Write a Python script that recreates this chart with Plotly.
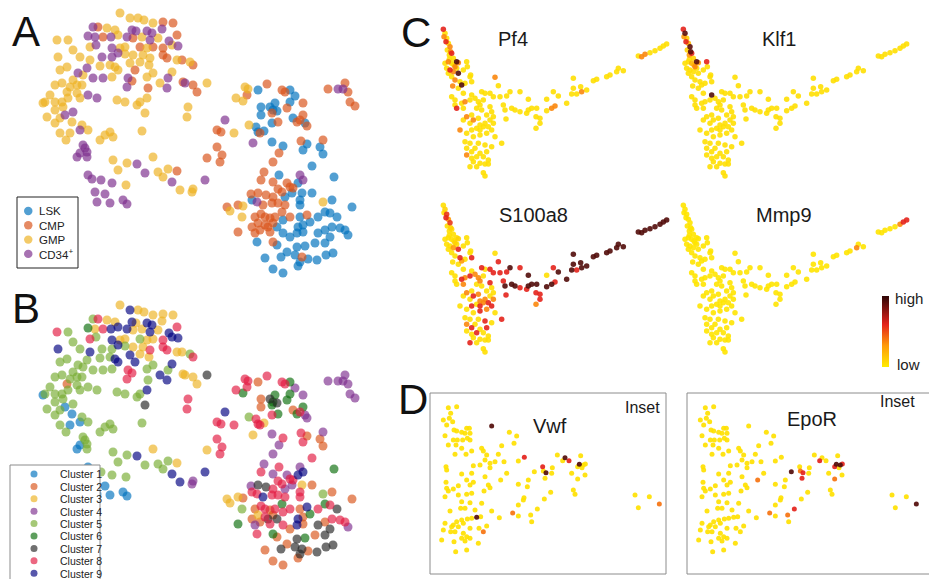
import plotly.graph_objects as go

W, H = 929, 579
FONT = "Liberation Sans, Arial, Helvetica, sans-serif"

# ---------------- Panel A / B : t-SNE embedding (shared coordinates) ----------------
tsne_x = [
    120,130,138,144,153,163,173,93,98,107,
    115,132,136,147,152,162,88,95,103,111,
    118,127,133,142,150,158,169,177,57,68,
    90,96,112,120,125,140,147,153,163,172,
    178,73,80,58,102,112,118,125,133,143,
    150,163,167,177,182,190,193,90,110,115,
    118,130,140,149,100,67,60,87,78,73,
    83,93,103,112,128,132,127,135,147,153,
    160,168,172,167,183,185,193,197,207,148,
    55,62,70,77,82,67,77,80,50,45,
    43,55,62,68,88,97,117,125,137,140,
    147,55,63,65,73,72,60,55,47,145,
    188,187,82,80,88,60,70,66,100,105,
    110,113,142,83,85,87,77,80,87,113,
    127,137,153,118,145,158,163,168,177,172,
    205,207,88,92,101,112,126,180,193,192,
    95,105,97,110,123,127,
    217,222,220,217,225,245,248,247,236,243,
    267,258,282,285,290,295,290,303,275,270,
    273,277,261,272,261,287,303,293,297,300,
    305,307,272,278,256,264,260,258,249,234,
    221,253,272,283,301,307,303,323,320,323,
    279,273,312,264,279,261,273,287,300,303,
    298,334,251,258,266,273,278,282,290,293,
    285,292,302,312,300,300,227,230,238,243,
    252,257,263,272,278,285,323,332,352,242,
    255,261,265,270,275,258,265,268,273,282,
    290,283,300,307,310,318,325,330,337,252,
    255,260,238,270,277,283,290,298,303,297,
    303,318,325,330,332,340,345,348,257,273,
    277,287,297,305,315,325,281,265,295,302,
    308,317,326,333,273,283,298,300,328,338,
    343,345,348,350,355,
]
tsne_y = [
    13,18,18,20,23,22,23,27,27,28,
    30,30,31,31,33,29,36,37,37,37,
    35,37,38,37,40,38,41,35,40,40,
    47,45,48,48,47,47,48,47,48,45,
    46,50,57,57,57,57,53,54,55,55,
    58,55,58,60,60,62,65,60,65,67,
    70,63,62,65,66,67,70,68,73,80,
    75,78,78,77,78,81,87,70,77,73,
    83,78,72,88,82,83,85,92,83,88,
    85,83,87,85,85,92,93,98,95,102,
    103,102,102,98,95,98,100,102,105,102,
    98,110,107,115,112,122,118,123,117,113,
    107,117,125,130,130,133,133,140,140,135,
    132,137,131,145,148,152,157,153,157,160,
    163,164,157,170,173,172,177,169,171,182,
    180,158,175,179,180,183,185,190,189,192,
    192,194,202,203,200,204,
    147,155,162,130,120,87,89,95,98,101,
    84,90,90,92,90,96,102,103,103,107,
    110,111,107,113,115,108,115,118,122,120,
    123,126,123,122,127,131,133,132,125,133,
    132,143,142,146,141,144,150,140,147,154,
    153,162,166,172,175,180,182,183,175,180,
    183,177,194,193,195,197,189,192,187,188,
    197,193,193,193,200,205,207,211,205,206,
    200,202,205,203,203,205,202,200,207,217,
    217,214,217,218,217,223,225,227,223,212,
    217,220,217,215,222,217,212,213,217,227,
    233,230,232,232,227,233,237,227,225,233,
    232,233,230,237,227,228,230,235,242,242,
    245,252,247,246,243,243,257,258,255,257,
    259,260,255,253,269,273,266,262,89,89,
    89,83,92,102,106,
]
# L = LSK, C = CMP, G = GMP, P = CD34+
cell_type = list(
    "GGGGGCCPCG" "GPPPPPPPCP" "GPCGPGPCGG" "GPPGGCGCCG" "PGGGPPPGGG"
    "GCCGCGCGGG" "GGGGGGGPPG" "GPPGPCPCGG" "GPGPCPCCGC" "GGGGGGGGGG"
    "GGGGPPGGGG" "GGGPPGGGGG" "GGGPGGGGGG" "GGGPPPPPPG" "GPGGPGGGCP"
    "PCPPPPGGGG" "PPPPPP"
    "CCCCPGGCGG" "CLCCLLLCLL" "LLLCLCCLCC" "LCLCLLCLGG" "CPLLCLLCLL"
    "CCLCLCCCPP" "LLCCCCCCCC" "LLLLLLCGCG" "LPCCCCGLLG" "CCCCCCCCCC"
    "CLLCLLLLLC" "CCCCLLLLLL" "LLLLLLLLLC" "LLLLLLLLLC" "LLLLLLLLCP"
    "PCCCC"
)
cluster_id = [
    3,9,3,3,3,3,3,5,8,3,
    3,9,3,9,9,3,6,3,8,9,
    9,9,3,3,9,3,9,8,8,5,
    8,5,9,3,3,5,3,3,8,9,
    9,5,5,9,5,5,9,5,3,3,
    8,8,8,3,3,5,8,9,5,9,
    9,9,3,3,5,5,5,5,5,5,
    5,5,5,5,8,8,8,9,5,5,
    9,5,9,9,3,3,3,3,7,5,
    5,5,5,5,5,2,5,5,5,5,
    1,5,5,5,5,5,5,5,5,5,
    9,5,5,1,5,1,5,5,5,7,
    8,8,5,1,5,5,1,5,5,5,
    5,5,5,5,5,5,1,1,5,5,
    5,9,3,5,5,5,5,5,3,9,
    9,3,1,1,5,5,5,9,4,4,
    1,1,1,1,1,1,
    8,8,8,8,9,8,8,8,8,6,
    8,2,8,8,6,4,6,4,6,7,
    6,7,2,6,2,6,6,2,6,8,
    4,4,8,6,8,3,8,8,5,8,
    8,3,4,8,8,2,8,4,2,2,
    4,4,8,4,8,8,4,4,4,9,
    9,6,4,7,7,8,8,8,8,8,
    4,4,3,2,8,8,3,3,3,2,
    8,8,9,8,8,8,5,2,2,5,
    2,8,8,2,8,3,8,7,2,6,
    8,8,2,9,6,8,6,8,7,2,
    4,2,6,8,7,8,2,9,2,9,
    2,7,2,7,8,8,8,4,8,6,
    2,2,7,6,2,7,7,2,7,7,
    2,7,7,7,2,2,2,7,4,4,
    4,4,4,4,4,
]
TYPE_CODES = ["L", "C", "G", "P"]
TYPE_LABELS = ["LSK", "CMP", "GMP", "CD34<sup>+</sup>"]
TYPE_COLORS = ["#0072BD", "#D95319", "#EDB120", "#7E2F8E"]
CLUSTERS = [1, 2, 3, 4, 5, 6, 7, 8, 9]
CLUSTER_LABELS = ["Cluster %d" % c for c in CLUSTERS]
CLUSTER_COLORS = ["#0072BD", "#D95319", "#EDB120", "#7E2F8E", "#77AC30",
                  "#0B6E0B", "#262626", "#E2183F", "#000080"]

# ---------------- Panel C : diffusion-map embedding (shared) ----------------
c_x = [
    40,45,42,50,48,55,60,52,62,58,
    65,70,55,65,80,85,75,60,70,85,
    55,65,75,95,90,68,50,45,58,72,
    80,100,110,112,120,125,105,122,85,65,
    75,100,105,95,80,75,100,120,125,135,
    155,165,180,195,205,190,145,160,150,140,
    155,180,185,190,170,125,110,130,145,120,
    100,150,160,150,165,175,180,190,140,125,
    90,110,130,150,170,185,195,105,120,145,
    165,185,215,110,125,135,150,170,110,125,
    140,160,175,130,150,165,175,120,140,160,
    165,210,230,240,270,220,225,228,245,255,
    270,290,295,305,320,295,350,370,385,365,
    375,350,318,330,318,330,410,425,430,440,
    452,455,470,430,490,500,530,540,560,565,
    580,625,635,645,660,675,690,700,710,
]
c_y = [
    28,40,50,55,65,70,80,90,95,105,
    100,115,125,130,125,128,140,150,155,160,
    160,170,180,195,185,198,145,130,118,135,
    145,150,125,140,170,185,190,165,205,230,
    240,220,245,250,265,255,265,240,225,235,
    215,220,220,172,197,230,245,240,255,265,
    270,260,275,290,285,285,290,300,295,310,
    300,315,320,330,310,320,300,310,325,330,
    330,340,350,345,340,330,350,365,370,370,
    375,380,370,385,395,385,400,395,405,415,
    410,410,420,425,430,432,432,440,440,458,
    468,230,228,215,215,255,270,297,265,270,
    275,280,270,265,265,238,238,215,228,265,
    258,272,290,295,325,310,250,222,205,222,
    200,215,210,175,182,178,170,165,155,145,
    152,108,110,103,98,92,85,78,72,
]
pf4 = [
    .6,.05,.35,.05,.6,.05,.35,.05,.35,.05,
    .6,.05,.35,.05,.92,.35,.35,.6,.35,.92,
    .05,.05,.35,.92,.05,.35,.05,.05,.05,.05,
    .05,.05,.05,.05,.05,.05,.05,.05,.05,.05,
    .05,.05,.35,.05,.6,.05,.05,.05,.05,.05,
    .05,.05,.05,.35,.05,.05,.05,.05,.05,.05,
    .05,.05,.05,.05,.05,.05,.35,.35,.05,.05,
    .05,.05,.05,.05,.05,.05,.05,.05,.05,.05,
    .35,.05,.05,.05,.05,.05,.05,.05,.05,.05,
    .05,.05,.05,.05,.05,.05,.05,.05,.35,.05,
    .05,.05,.05,.05,.05,.05,.05,.05,.05,.05,
    .05,.05,.05,.05,.05,.05,.05,.05,.05,.05,
    .05,.05,.05,.05,.05,.05,.05,.05,.05,.35,
    .35,.05,.05,.05,.05,.05,.05,.05,.05,.05,
    .05,.35,.05,.05,.05,.05,.05,.05,.05,.05,
    .05,.05,.35,.35,.05,.05,.05,.05,.05,
]
klf1 = [
    .6,.9,.3,.1,.6,.2,.9,.1,.9,.3,
    .6,.1,.05,.2,.9,.3,.35,.05,.05,.05,
    .05,.05,.05,.05,.05,.05,.05,.05,.05,.2,
    .05,.05,.6,.05,.05,.05,.05,.05,.05,.05,
    .05,.05,.05,.05,.05,.05,.05,.05,.92,.05,
    .05,.05,.05,.05,.05,.05,.05,.05,.05,.05,
    .05,.05,.05,.05,.05,.05,.05,.05,.05,.05,
    .05,.05,.05,.05,.05,.05,.05,.05,.05,.05,
    .05,.05,.05,.05,.05,.05,.05,.05,.05,.05,
    .05,.05,.05,.05,.05,.05,.05,.05,.05,.05,
    .05,.05,.05,.05,.05,.05,.05,.05,.05,.05,
    .05,.05,.05,.05,.05,.05,.05,.05,.05,.05,
    .05,.05,.05,.05,.05,.05,.05,.05,.05,.05,
    .05,.05,.05,.05,.05,.05,.05,.05,.05,.05,
    .05,.05,.05,.05,.05,.05,.05,.05,.05,.05,
    .05,.05,.05,.05,.05,.05,.05,.05,.05,
]
s100a8 = [
    .05,.1,.05,.55,.6,.3,.55,.05,.1,.05,
    .05,.05,.05,.05,.05,.1,.1,.05,.3,.6,
    .05,.05,.05,.3,.6,.05,.05,.05,.05,.05,
    .05,.05,.05,.05,.05,.6,.05,.05,.05,.05,
    .05,.05,.35,.6,.05,.05,.35,.6,.05,.35,
    .6,.05,.6,.05,.6,.6,.35,.05,.35,.05,
    .05,.6,.05,.05,.05,.05,.35,.6,.35,.05,
    .05,.35,.35,.6,.35,.6,.05,.35,.05,.6,
    .05,.05,.05,.6,.35,.6,.05,.05,.05,.05,
    .6,.05,.6,.35,.6,.05,.05,.6,.05,.05,
    .6,.05,.05,.05,.05,.05,.05,.6,.05,.05,
    .05,.6,.6,.92,.6,.6,.92,.6,.92,.92,
    .6,.6,.92,.92,.92,.92,.05,.6,.92,.92,
    .6,.92,.6,.6,.35,.6,.92,.92,.92,.6,
    .92,.92,.92,.92,.92,.92,.92,.92,.92,.92,
    .92,.92,.92,.92,.92,.92,.92,.92,.92,
]
mmp9 = [
    .03,.03,.03,.03,.03,.03,.03,.03,.03,.03,
    .03,.03,.03,.03,.03,.03,.03,.03,.03,.03,
    .03,.03,.03,.03,.03,.03,.03,.03,.03,.03,
    .03,.03,.03,.03,.03,.03,.03,.03,.03,.03,
    .03,.03,.03,.03,.03,.03,.03,.03,.03,.03,
    .03,.03,.03,.03,.03,.03,.03,.03,.03,.03,
    .03,.03,.03,.03,.03,.03,.03,.03,.03,.03,
    .03,.03,.03,.03,.03,.03,.03,.03,.03,.03,
    .03,.03,.03,.03,.03,.03,.03,.03,.03,.03,
    .03,.03,.03,.03,.03,.03,.03,.03,.03,.03,
    .03,.03,.03,.03,.03,.03,.03,.03,.03,.03,
    .03,.03,.03,.03,.03,.03,.03,.03,.03,.03,
    .03,.03,.03,.03,.03,.03,.03,.03,.03,.03,
    .03,.03,.03,.03,.03,.03,.03,.03,.03,.03,
    .03,.03,.03,.03,.03,.03,.03,.03,.35,.03,
    .03,.03,.03,.03,.03,.03,.35,.6,.6,
]

# ---------------- Panel D : inset embedding (shared) ----------------
d_x = [
    55,80,62,40,58,68,50,72,80,95,
    110,118,120,105,45,70,82,98,112,120,
    55,78,95,75,108,125,185,238,260,252,
    215,155,160,170,205,165,150,180,130,195,
    222,265,283,230,180,165,212,48,50,95,
    125,110,120,130,48,85,50,55,70,175,
    180,162,110,125,85,45,295,265,292,313,
    338,340,348,345,367,365,382,405,398,417,
    425,443,452,448,460,466,456,465,443,430,
    435,362,343,282,280,265,95,120,155,92,
    105,135,60,185,322,302,305,248,265,208,
    152,140,125,112,95,80,100,70,45,65,
    85,120,147,170,160,75,62,40,100,110,
    120,95,105,35,72,145,77,110,615,658,
    625,688,
]
d_y = [
    38,35,55,75,70,80,90,105,108,112,
    100,100,115,115,122,135,135,135,130,135,
    150,150,160,178,178,168,93,112,123,145,
    152,160,168,180,178,195,210,205,212,200,
    200,198,187,235,218,245,255,215,225,237,
    235,255,270,262,262,272,280,288,282,270,
    278,288,298,295,300,305,255,268,275,230,
    215,228,233,250,218,235,180,188,197,197,
    235,215,182,208,210,207,218,240,252,285,
    298,292,312,308,315,330,320,323,325,340,
    340,345,348,348,342,360,380,354,363,368,
    365,367,370,372,375,380,385,390,385,395,
    395,400,400,393,410,410,410,405,415,425,
    430,430,438,435,440,445,470,465,300,305,
    338,327,
]
vwf = [
    .04,.04,.04,.04,.04,.04,.04,.04,.04,.04,
    .04,.04,.04,.04,.04,.04,.04,.04,.04,.04,
    .04,.04,.04,.04,.04,.04,.92,.04,.04,.04,
    .04,.04,.04,.04,.04,.04,.04,.04,.04,.04,
    .04,.04,.6,.04,.04,.04,.04,.04,.04,.04,
    .04,.04,.04,.04,.04,.04,.04,.04,.04,.04,
    .04,.04,.04,.04,.04,.04,.04,.04,.04,.04,
    .6,.04,.92,.04,.04,.04,.04,.92,.04,.6,
    .04,.04,.04,.92,.04,.04,.04,.04,.04,.04,
    .04,.04,.04,.04,.04,.04,.04,.04,.04,.04,
    .04,.04,.04,.04,.04,.04,.04,.4,.04,.04,
    .04,.92,.04,.04,.04,.04,.04,.04,.04,.04,
    .04,.04,.04,.04,.4,.04,.04,.04,.04,.04,
    .04,.04,.04,.04,.04,.04,.04,.04,.04,.04,
    .04,.4,
]
epor = [
    .04,.04,.04,.04,.04,.04,.04,.04,.04,.04,
    .04,.04,.04,.04,.04,.04,.04,.04,.04,.04,
    .04,.04,.04,.04,.04,.04,.04,.04,.04,.04,
    .04,.04,.04,.04,.04,.04,.04,.04,.04,.04,
    .04,.04,.04,.04,.04,.04,.4,.04,.04,.04,
    .04,.04,.04,.04,.04,.04,.04,.04,.04,.04,
    .04,.04,.04,.04,.04,.04,.04,.04,.04,.92,
    .04,.4,.6,.6,.04,.04,.04,.04,.6,.04,
    .04,.6,.04,.92,.92,.6,.04,.04,.4,.04,
    .04,.04,.04,.04,.04,.04,.04,.04,.04,.04,
    .04,.04,.04,.04,.6,.4,.04,.4,.04,.04,
    .04,.04,.04,.04,.04,.04,.04,.04,.04,.04,
    .04,.04,.04,.04,.04,.04,.04,.04,.04,.04,
    .04,.04,.04,.04,.04,.04,.04,.04,.04,.04,
    .04,.92,
]

C_GENES = [("Pf4", pf4), ("Klf1", klf1), ("S100a8", s100a8), ("Mmp9", mmp9)]
D_GENES = [("Vwf", vwf), ("EpoR", epor)]
EXPR_SCALE = [[0.0, "#FFEC00"], [0.3, "#FF9B0A"], [0.6, "#E4231C"], [1.0, "#2E0606"]]

# ---------------- layout helpers ----------------
fig = go.Figure()
layout_axes = {}


def px(xp):
    return xp / W


def py(yp):
    return 1 - yp / H


def add_axes(idx, box, ox, oy, sx, sy):
    x0, y0, x1, y1 = box
    sfx = "" if idx == 1 else str(idx)
    layout_axes["xaxis" + sfx] = dict(domain=[x0 / W, x1 / W],
                                      range=[(x0 - ox) / sx, (x1 - ox) / sx],
                                      visible=False, anchor="y" + sfx, fixedrange=True)
    layout_axes["yaxis" + sfx] = dict(domain=[1 - y1 / H, 1 - y0 / H],
                                      range=[(y1 - oy) / sy, (y0 - oy) / sy],
                                      visible=False, anchor="x" + sfx, fixedrange=True)
    return "x" + sfx, "y" + sfx


# Panel A
xa, ya = add_axes(1, (5, 0, 380, 289), 0, 0, 1, 1)
for code, lab, col in zip(TYPE_CODES, TYPE_LABELS, TYPE_COLORS):
    idx = [i for i, t in enumerate(cell_type) if t == code]
    fig.add_trace(go.Scatter(x=[tsne_x[i] for i in idx], y=[tsne_y[i] for i in idx],
                             mode="markers", xaxis=xa, yaxis=ya, showlegend=False,
                             cliponaxis=False, hoverinfo="skip",
                             marker=dict(size=9, color=col, opacity=0.68, line=dict(width=0))))

# Panel B
xb, yb = add_axes(2, (5, 290, 380, 579), 0, 292, 1, 1)
for c, col in zip(CLUSTERS, CLUSTER_COLORS):
    idx = [i for i, k in enumerate(cluster_id) if k == c]
    fig.add_trace(go.Scatter(x=[tsne_x[i] for i in idx], y=[tsne_y[i] for i in idx],
                             mode="markers", xaxis=xb, yaxis=yb, showlegend=False,
                             cliponaxis=False, hoverinfo="skip",
                             marker=dict(size=9, color=col, opacity=0.66, line=dict(width=0))))

# Panel C (2x2)
c_boxes = [((425, 12, 672, 190), 430, 20), ((672, 12, 922, 190), 670, 20),
           ((425, 190, 672, 370), 430, 196), ((672, 190, 922, 370), 670, 196)]
for k, ((name, vals), (box, ox, oy)) in enumerate(zip(C_GENES, c_boxes)):
    ax, ay = add_axes(3 + k, box, ox, oy, 1 / 3, 1 / 3)
    order = sorted(range(len(vals)), key=lambda i: vals[i])
    fig.add_trace(go.Scatter(x=[c_x[i] for i in order], y=[c_y[i] for i in order],
                             mode="markers", xaxis=ax, yaxis=ay, showlegend=False,
                             cliponaxis=False, hoverinfo="skip",
                             marker=dict(size=5.5, color=[vals[i] for i in order],
                                         coloraxis="coloraxis", opacity=0.9,
                                         line=dict(width=0))))

# Panel D (two insets)
d_boxes = [((431, 394, 665, 573), 430, 395), ((688, 394, 929, 573), 687, 395)]
for k, ((name, vals), (box, ox, oy)) in enumerate(zip(D_GENES, d_boxes)):
    ax, ay = add_axes(7 + k, box, ox, oy, 1 / 3, 1 / 3)
    order = sorted(range(len(vals)), key=lambda i: vals[i])
    fig.add_trace(go.Scatter(x=[d_x[i] for i in order], y=[d_y[i] for i in order],
                             mode="markers", xaxis=ax, yaxis=ay, showlegend=False,
                             cliponaxis=False, hoverinfo="skip",
                             marker=dict(size=5, color=[vals[i] for i in order],
                                         coloraxis="coloraxis", opacity=0.92,
                                         line=dict(width=0))))

annotations = []
shapes = []


def text(xp, yp, s, size, anchor="center", color="#1a1a1a"):
    annotations.append(dict(x=px(xp), y=py(yp), xref="paper", yref="paper", text=s,
                            showarrow=False, xanchor=anchor, yanchor="middle",
                            font=dict(family=FONT, size=size, color=color)))


# panel letters
for letter, (lx, ly) in zip("ABCD", [(10, 31), (10, 308), (399, 32), (396, 399)]):
    text(lx, ly, letter, 42, anchor="left", color="#111111")

# C titles
for (name, _), (tx, ty) in zip(C_GENES, [(513, 39), (779, 39), (533, 215), (784, 215)]):
    text(tx, ty, name, 20)
# D titles / insets
text(550, 426, "Vwf", 20)
text(812, 419, "EpoR", 20)
text(642, 408, "Inset", 16)
text(897, 401, "Inset", 16)

# D frames
for (x0, y0, x1, y1) in [(430, 393, 666, 574), (687, 393, 945, 574)]:
    shapes.append(dict(type="rect", xref="paper", yref="paper", x0=px(x0), x1=px(x1),
                       y0=py(y1), y1=py(y0), line=dict(color="#8c8c8c", width=1)))

# legend A
shapes.append(dict(type="rect", xref="paper", yref="paper", x0=px(17), x1=px(78),
                   y0=py(268), y1=py(197), line=dict(color="#222222", width=1),
                   fillcolor="white"))
for i, (lab, col) in enumerate(zip(TYPE_LABELS, TYPE_COLORS)):
    cy = 211 + 14.3 * i
    shapes.append(dict(type="circle", xref="paper", yref="paper",
                       x0=px(24), x1=px(32.5), y0=py(cy + 4.2), y1=py(cy - 4.2),
                       fillcolor=col, opacity=0.68, line=dict(width=0)))
    text(36.5, cy + 0.5, lab, 11.5, anchor="left", color="#222222")

# legend B
shapes.append(dict(type="rect", xref="paper", yref="paper", x0=px(10), x1=px(100),
                   y0=py(600), y1=py(465), line=dict(color="#8c8c8c", width=1),
                   fillcolor="white"))
for i, (lab, col) in enumerate(zip(CLUSTER_LABELS, CLUSTER_COLORS)):
    cy = 474 + 12.4 * i
    shapes.append(dict(type="circle", xref="paper", yref="paper",
                       x0=px(30.5), x1=px(37.5), y0=py(cy + 3.5), y1=py(cy - 3.5),
                       fillcolor=col, opacity=0.66, line=dict(width=0)))
    text(58, cy + 0.3, lab, 10.5, anchor="left", color="#222222")

# colorbar labels
text(893, 298, "high", 15, anchor="left", color="#222222")
text(895, 364, "low", 15, anchor="left", color="#222222")

fig.update_layout(
    width=W, height=H, margin=dict(l=0, r=0, t=0, b=0),
    paper_bgcolor="white", plot_bgcolor="white",
    showlegend=False, hovermode=False,
    font=dict(family=FONT),
    coloraxis=dict(colorscale=EXPR_SCALE, cmin=0, cmax=1,
                   colorbar=dict(thickness=7, thicknessmode="pixels",
                                 len=71, lenmode="pixels",
                                 x=882 / W, xanchor="left", xref="paper",
                                 y=1 - 331.5 / H, yanchor="middle", yref="paper",
                                 outlinewidth=0, showticklabels=False, ticks="",
                                 xpad=0, ypad=0)),
    annotations=annotations, shapes=shapes,
    **layout_axes,
)

fig.write_html("out.html", config={"displayModeBar": False},
               post_script="document.body.style.margin='0px';")
